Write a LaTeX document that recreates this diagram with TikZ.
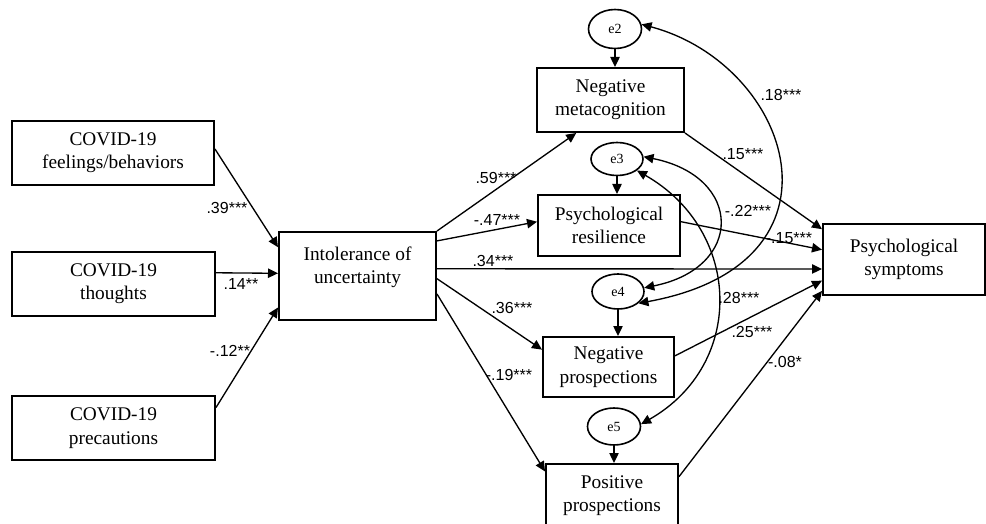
\documentclass[tikz,border=0pt]{standalone}
\usepackage{fontspec}
\setmainfont{Liberation Serif}
\newfontfamily\coeffont{Liberation Sans}
\usetikzlibrary{arrows.meta,calc,shapes.geometric}

\tikzset{
	varbox/.style={draw, line width=1.5pt, align=center, inner sep=2pt, font=\fontsize{14.5}{17.5}\selectfont},
	errnode/.style={draw, ellipse, line width=1.2pt, inner sep=0pt, font=\fontsize{10.5}{12}\selectfont},
	pathline/.style={line width=1pt, -{Triangle[length=7.5pt,width=7pt]}},
	covline/.style={line width=1pt, {Triangle[length=7.5pt,width=7pt]}-{Triangle[length=7.5pt,width=7pt]}},
	coef/.style={inner sep=0pt, font=\coeffont\fontsize{12}{14}\selectfont}}
\tikzset{every picture/.style={line width=0.75pt}}

\begin{document}
\begin{tikzpicture}[x=0.75pt,y=0.75pt,yscale=-1,xscale=1]
	\useasboundingbox (0,0) rectangle (986,524); %set diagram size 986 x 524
	
	%Shape: Rectangle
	\node [varbox, minimum width=151.5pt, minimum height=48pt] (feel) at (113,153) {COVID-19\\feelings/behaviors};
	%Shape: Rectangle
	\node [varbox, minimum width=152.25pt, minimum height=48pt] (thought) at (113.5,284) {COVID-19\\thoughts};
	%Shape: Rectangle
	\node [varbox, minimum width=152.25pt, minimum height=48pt] (precaution) at (113.5,428) {COVID-19\\precautions};
	%Shape: Rectangle
	\node [varbox, minimum width=117.75pt, minimum height=66pt, text depth=16pt] (iou) at (357.5,276) {Intolerance of\\uncertainty};
	%Shape: Rectangle
	\node [varbox, minimum width=110.25pt, minimum height=48pt] (negmeta) at (610.5,100) {Negative\\metacognition};
	%Shape: Rectangle
	\node [varbox, minimum width=106.5pt, minimum height=45.75pt] (resil) at (609,225.5) {Psychological\\resilience};
	%Shape: Rectangle
	\node [varbox, minimum width=98.25pt, minimum height=45pt] (negpros) at (608.5,367) {Negative\\prospections};
	%Shape: Rectangle
	\node [varbox, minimum width=99pt, minimum height=47.25pt] (pospros) at (612,495.5) {Positive\\prospections};
	%Shape: Rectangle
	\node [varbox, minimum width=121.5pt, minimum height=53.25pt] (symp) at (904,259.5) {Psychological\\symptoms};
	
	%Shape: Ellipse
	\node [errnode, minimum width=39.75pt, minimum height=29.25pt] (e2) at (615,29) {e2};
	%Shape: Ellipse
	\node [errnode, minimum width=39pt, minimum height=24.75pt] (e3) at (617,159) {e3};
	%Shape: Ellipse
	\node [errnode, minimum width=39pt, minimum height=26.25pt] (e4) at (618,291.5) {e4};
	%Shape: Ellipse
	\node [errnode, minimum width=39.75pt, minimum height=27.75pt] (e5) at (614,426.5) {e5};
	
	%Straight Lines
	\draw [pathline] ($(feel.north east)!0.44!(feel.south east)$) -- ($(iou.north west)!0.18!(iou.south west)$);
	\draw [pathline] ($(thought.north east)!0.33!(thought.south east)$) -- ($(iou.north west)!0.47!(iou.south west)$);
	\draw [pathline] ($(precaution.north east)!0.19!(precaution.south east)$) -- ($(iou.north west)!0.85!(iou.south west)$);
	%Straight Lines
	\draw [pathline] (iou.north east) -- ($(negmeta.south west)!0.27!(negmeta.south east)$);
	\draw [pathline] ($(iou.north east)!0.11!(iou.south east)$) -- ($(resil.north west)!0.44!(resil.south west)$);
	\draw [pathline] ($(iou.north east)!0.42!(iou.south east)$) -- ($(symp.north west)!0.63!(symp.south west)$);
	\draw [pathline] ($(iou.north east)!0.53!(iou.south east)$) -- ($(negpros.north west)!0.22!(negpros.south west)$);
	\draw [pathline] ($(iou.north east)!0.70!(iou.south east)$) -- ($(pospros.north west)!0.13!(pospros.south west)$);
	%Straight Lines
	\draw [pathline] (negmeta.south east) -- ($(symp.north west)!0.085!(symp.south west)$);
	\draw [pathline] ($(resil.north east)!0.44!(resil.south east)$) -- ($(symp.north west)!0.366!(symp.south west)$);
	\draw [pathline] ($(negpros.north east)!0.32!(negpros.south east)$) -- ($(symp.north west)!0.79!(symp.south west)$);
	\draw [pathline] ($(pospros.north east)!0.21!(pospros.south east)$) -- ($(symp.north west)!0.93!(symp.south west)$);
	%Straight Lines
	\draw [pathline] (e2.south) -- (e2.south |- negmeta.north);
	\draw [pathline] (e3.south) -- (e3.south |- resil.north);
	\draw [pathline] (e4.south) -- (e4.south |- negpros.north);
	\draw [pathline] (e5.south) -- (e5.south |- pospros.north);
	
	%Curve Lines
	\draw [covline] (e2.10) .. controls +(150,40) and +(220,-40) .. (e4.-30);
	%Curve Lines
	\draw [covline] (e3.5) .. controls +(100,20) and +(100,-20) .. (e4.8);
	%Curve Lines
	\draw [covline] (e3.-30) .. controls +(105,60) and +(105,-60) .. (e5.5);
	
	% Text Node
	\node [coef] (w39) at (227,208) {.39***};
	% Text Node
	\node [coef] (w14) at (241,284) {.14**};
	% Text Node
	\node [coef] (w12) at (230,351) {-.12**};
	% Text Node
	\node [coef] (w59) at (496,178) {.59***};
	% Text Node
	\node [coef] (w47) at (497,220) {-.47***};
	% Text Node
	\node [coef] (w34) at (493,261) {.34***};
	% Text Node
	\node [coef] (w36) at (512,308) {.36***};
	% Text Node
	\node [coef] (w19) at (509,375) {-.19***};
	% Text Node
	\node [coef] (w18) at (781,95) {.18***};
	% Text Node
	\node [coef] (w15a) at (743,154) {.15***};
	% Text Node
	\node [coef] (w22) at (748,211) {-.22***};
	% Text Node
	\node [coef] (w15b) at (789,238) {-.15***};
	% Text Node
	\node [coef] (w28) at (739,298) {.28***};
	% Text Node
	\node [coef] (w25) at (752,332) {.25***};
	% Text Node
	\node [coef] (w08) at (785,362) {-.08*};
	
\end{tikzpicture}
\end{document}
